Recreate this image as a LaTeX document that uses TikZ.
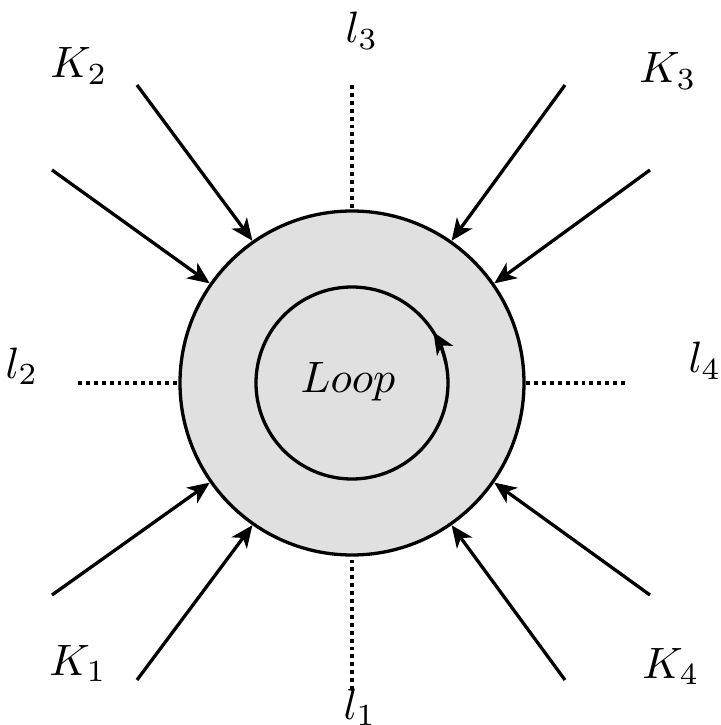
\documentclass[tikz,border=0pt]{standalone}
\usetikzlibrary{arrows.meta}

\begin{document}
\begin{tikzpicture}[
  x=0.8cm,y=0.8cm,
  line width=0.75pt,
  blob/.style={draw,circle,fill=black!12,minimum size=2.752cm,inner sep=0pt},
  loopring/.style={draw,circle,minimum size=1.536cm,inner sep=0pt},
  leg/.style={-{Stealth[length=5pt,width=4.3pt,inset=1.4pt]}},
  cut/.style={dash pattern=on 0.9pt off 0.9pt},
  lab/.style={anchor=base}
]
\useasboundingbox (-3.52,-3.42) rectangle (3.68,3.83);
% outer blob
\node[blob] (blob) at (0,0) {};
\node[loopring] (ring) at (0,0) {};
\node[lab] (looptext) at (-0.04,-0.09) {$Loop$};
\coordinate (c) at (0,0);
\draw[-{Stealth[length=5pt,width=4.3pt,inset=1.4pt]}] ([shift={(12:0.96)}]c) arc (12:32:0.96);

% cut lines
\coordinate (t3) at (0,2.98);
\coordinate (t1) at (0,-3.07);
\coordinate (t2) at (-2.74,0);
\coordinate (t4) at (2.73,0);
\draw[cut] (t3) -- (blob.north);
\draw[cut] (t1) -- (blob.south);
\draw[cut] (t2) -- (blob.west);
\draw[cut] (t4) -- (blob.east);
\node[lab] (l3) at (0.10,3.40) {$l_3$};
\node[lab] (l1) at (0.08,-3.36) {$l_1$};
\node[lab] (l2) at (-3.30,0.05) {$l_2$};
\node[lab] (l4) at (3.53,0.10) {$l_4$};

% external legs
\coordinate (a2) at (-2.15,2.98);
\coordinate (b2) at (-3.00,2.13);
\coordinate (a3) at (2.13,2.98);
\coordinate (b3) at (2.98,2.13);
\coordinate (a1) at (-2.15,-2.97);
\coordinate (b1) at (-3.00,-2.12);
\coordinate (a4) at (2.13,-2.97);
\coordinate (b4) at (2.98,-2.12);
\draw[leg] (a2) -- (blob.125);
\draw[leg] (b2) -- (blob.145);
\draw[leg] (a3) -- (blob.55);
\draw[leg] (b3) -- (blob.35);
\draw[leg] (a1) -- (blob.235);
\draw[leg] (b1) -- (blob.215);
\draw[leg] (a4) -- (blob.305);
\draw[leg] (b4) -- (blob.325);
\node[lab] (K2) at (-2.73,3.05) {$K_2$};
\node[lab] (K3) at (3.16,3.00) {$K_3$};
\node[lab] (K1) at (-2.74,-2.92) {$K_1$};
\node[lab] (K4) at (3.19,-2.95) {$K_4$};
\end{tikzpicture}
\end{document}
